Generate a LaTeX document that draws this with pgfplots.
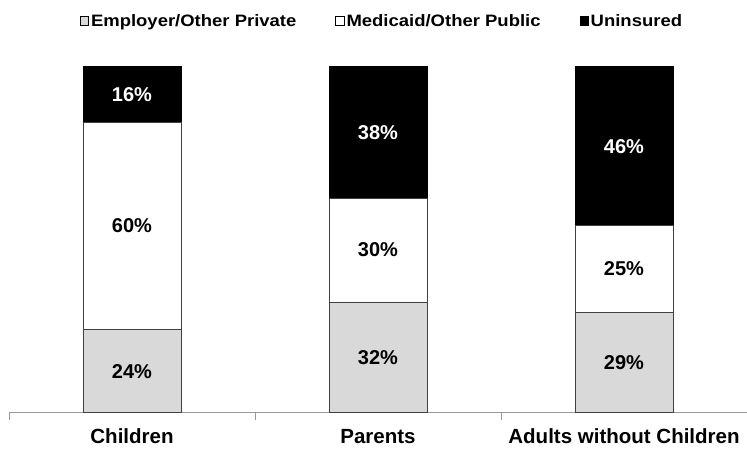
\documentclass[border=0pt]{standalone}
\usepackage{pgfplots}
\pgfplotsset{compat=1.18}
\usepackage{fontspec}
\setmainfont{Liberation Sans}
\newfontfamily\legfont{Liberation Sans}[FakeStretch=1.12]
\definecolor{empl}{HTML}{D9D9D9}
\definecolor{edge}{HTML}{404040}
\begin{document}
\begin{tikzpicture}
\useasboundingbox (0,0) rectangle (747pt,448pt);
\begin{axis}[
  at={(9pt,35.3pt)}, anchor=south west,
  scale only axis, width=738pt, height=346pt,
  xmin=-0.5, xmax=2.5, ymin=0, ymax=100,
  ybar stacked, bar width=98pt,
  axis y line=none,
  axis x line*=bottom,
  x axis line style={color=gray!80, line width=0.8pt, -},
  xtick={0,1,2},
  xticklabels={Children,Parents,Adults without Children},
  major tick length=0pt,
  extra x ticks={-0.5,0.5,1.5,2.5},
  extra x tick labels={},
  extra x tick style={major tick length=7pt, tick style={color=gray!80, line width=0.8pt}},
  tick align=outside,
  xticklabel style={font=\fontsize{20.5}{22}\selectfont\bfseries, inner sep=0pt, yshift=-16pt},
  legend style={at={(0.5,1)}, anchor=center, yshift=45pt, xshift=4pt, draw=none, fill=none,
    font=\legfont\fontsize{16.5}{19}\selectfont\bfseries, legend columns=3,
    /tikz/every even column/.append style={column sep=37pt}},
  legend image code/.code={\draw[#1, draw=black, line width=0.6pt] (0pt,-3.5pt) rectangle (8.5pt,5pt);},
]
\addplot[fill=empl, draw=edge, line width=0.8pt] coordinates {(0,24) (1,32) (2,29)};
\addplot[fill=white, draw=edge, line width=0.8pt] coordinates {(0,60) (1,30) (2,25)};
\addplot[fill=black, draw=black, line width=0.8pt] coordinates {(0,16) (1,38) (2,46)};
\legend{Employer/Other Private, Medicaid/Other Public, Uninsured}
\end{axis}
\begin{axis}[
  at={(9pt,35.3pt)}, anchor=south west,
  scale only axis, width=738pt, height=346pt,
  xmin=-0.5, xmax=2.5, ymin=0, ymax=100,
  hide axis,
  nodes near coords, point meta=explicit symbolic,
  nodes near coords align=center,
  every node near coord/.append style={anchor=center, font=\fontsize{20}{22}\selectfont\bfseries},
]
\addplot[only marks, mark=none, every node near coord/.append style={text=black}]
  coordinates {(0,12) [24\%] (1,16) [32\%] (2,14.5) [29\%]
               (0,54) [60\%] (1,47) [30\%] (2,41.5) [25\%]};
\addplot[only marks, mark=none, every node near coord/.append style={text=white}]
  coordinates {(0,92) [16\%] (1,81) [38\%] (2,77) [46\%]};
\end{axis}
\end{tikzpicture}
\end{document}
